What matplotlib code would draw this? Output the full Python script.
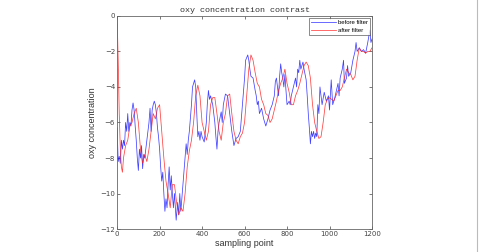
import numpy as np
import matplotlib.pyplot as plt
from matplotlib.lines import Line2D

# before filter (raw signal)
raw_x = [0, 5, 10, 15, 20, 25, 30, 35, 40, 45, 50, 55, 60, 65, 70, 75, 80, 85, 90, 95,
         100, 105, 110, 115, 120, 125, 130, 140, 150, 155, 160, 165, 170, 175, 180, 185, 190, 195,
         200, 205, 210, 215, 220, 225, 230, 235, 240, 245, 250, 255, 260, 265, 270, 278, 285,
         290, 295, 300, 310, 320, 325, 330, 335, 340, 350, 355, 365, 370, 375, 380, 385, 390,
         395, 400, 410, 420, 425, 430, 435, 440, 450, 460, 465, 470, 475, 480, 490, 495, 500,
         510, 520, 530, 540, 550, 560, 570, 580, 590, 600, 605, 615, 620, 625, 630, 640, 650,
         655, 660, 665, 670, 680, 690, 700, 710, 720, 730, 740, 745, 750, 760, 765, 770, 775,
         780, 785, 790, 795, 800, 810, 815, 820, 830, 840, 845, 850, 855, 860, 865, 870, 875,
         880, 890, 895, 900, 905, 910, 915, 920, 925, 930, 935, 940, 945, 950, 955, 960, 965,
         975, 985, 995, 1000, 1008, 1015, 1025, 1040, 1045, 1050, 1060, 1066, 1070, 1080, 1085,
         1090, 1100, 1110, 1120, 1125, 1130, 1140, 1150, 1160, 1170, 1180, 1190, 1195, 1200]
raw_y = [-6.3, -8.2, -7.9, -8.3, -7.0, -7.5, -7.0, -7.3, -6.0, -6.5, -5.5, -6.5, -6.0, -6.2, -5.3, -4.9,
         -5.3, -6.2, -7.0, -8.0, -8.7, -7.5, -8.0, -7.3, -8.6, -7.8, -8.0, -7.0, -6.0, -5.2, -6.5,
         -5.3, -5.0, -4.8, -5.0, -5.5, -6.3, -6.8, -7.5, -8.5, -9.3, -8.8, -10.0, -11.0, -10.3,
         -10.8, -9.5, -8.5, -9.8, -9.0, -10.0, -10.8, -10.0, -11.5, -10.5, -11.2, -10.0, -11.0,
         -9.5, -8.0, -7.2, -7.8, -7.0, -6.5, -5.0, -4.0, -3.6, -4.0, -5.5, -6.8, -6.5, -7.0,
         -6.5, -6.8, -7.1, -6.0, -4.9, -4.2, -4.7, -4.5, -5.0, -6.0, -6.8, -7.5, -6.5, -6.0,
         -5.4, -6.0, -5.0, -4.4, -4.5, -5.5, -6.5, -7.3, -6.9, -6.8, -6.5, -5.0, -3.5, -2.5,
         -2.2, -2.5, -3.0, -3.4, -3.5, -4.2, -4.5, -5.0, -4.8, -5.5, -5.2, -5.8, -6.2, -5.8,
         -5.3, -5.0, -4.5, -3.7, -3.5, -4.5, -3.4, -2.7, -3.2, -3.5, -4.0, -3.3, -4.2, -5.0,
         -4.8, -5.0, -4.5, -4.0, -3.5, -4.0, -3.0, -3.2, -2.5, -3.0, -2.8, -2.6, -3.0, -3.6,
         -4.5, -5.5, -6.3, -7.2, -6.5, -6.8, -6.5, -6.9, -6.6, -6.8, -5.0, -5.5, -4.0, -4.5,
         -5.0, -4.3, -4.8, -4.5, -5.3, -3.6, -5.0, -4.6, -3.8, -4.5, -3.5, -3.0, -2.5, -3.8,
         -3.5, -2.8, -3.4, -3.2, -2.5, -2.0, -1.5, -2.0, -1.8, -2.0, -1.9, -2.1, -1.5, -0.8,
         -1.5, -1.3]

# after filter
filt_x = [0, 5, 10, 15, 20, 25, 30, 40, 50, 60, 70, 80, 90, 100, 110, 120, 130, 140, 150, 160,
          170, 180, 190, 200, 210, 220, 230, 240, 250, 260, 270, 280, 290, 300, 310, 320, 330,
          340, 350, 360, 370, 380, 390, 400, 410, 420, 430, 440, 450, 460, 470, 480, 490, 500,
          510, 520, 530, 540, 550, 560, 570, 580, 590, 600, 610, 620, 630, 640, 650, 660, 670,
          680, 690, 700, 710, 720, 730, 740, 750, 760, 770, 780, 790, 800, 810, 820, 830, 840,
          850, 860, 870, 880, 890, 900, 910, 920, 930, 940, 950, 960, 970, 980, 990, 1000, 1010,
          1020, 1030, 1040, 1050, 1060, 1070, 1080, 1090, 1100, 1110, 1120, 1130, 1140, 1150,
          1160, 1170, 1180, 1190, 1200]
filt_y = [0.0, -2.5, -5.5, -7.5, -8.5, -8.8, -8.0, -7.3, -7.0, -6.2, -6.0, -5.5, -5.2, -6.0, -7.5,
          -8.3, -7.8, -8.2, -7.5, -6.5, -5.5, -5.8, -5.2, -5.0, -6.5, -8.0, -9.3, -10.0, -10.8,
          -9.5, -9.5, -10.5, -11.2, -10.8, -11.0, -10.0, -8.5, -7.6, -7.0, -6.0, -4.5, -3.9,
          -4.5, -6.0, -6.5, -7.0, -6.5, -5.0, -4.6, -4.6, -5.5, -6.5, -7.0, -6.0, -5.5, -4.5,
          -4.4, -5.5, -6.5, -7.0, -7.2, -6.8, -6.6, -6.0, -4.5, -3.0, -2.2, -2.5, -3.2, -3.8,
          -4.0, -4.7, -5.0, -5.5, -5.6, -6.0, -5.8, -5.3, -4.8, -4.2, -3.8, -3.5, -3.0, -3.8,
          -4.3, -5.0, -5.0, -4.5, -4.2, -3.8, -3.3, -2.8, -2.6, -2.8, -3.5, -5.0, -6.0, -6.5,
          -6.9, -6.8, -6.0, -5.0, -4.7, -4.6, -4.7, -4.8, -4.5, -4.2, -4.2, -4.0, -3.5, -3.0,
          -3.2, -3.3, -3.6, -3.4, -2.5, -1.8, -2.0, -2.0, -2.1, -2.0, -2.0, -1.8]

fig = plt.figure(figsize=(4.8, 2.52), dpi=100)
ax = fig.add_axes([0.244, 0.091, 0.531, 0.846])

ax.plot(raw_x, raw_y, color='#2020ff', lw=0.55, alpha=0.85, label='before filter')
ax.plot(filt_x, filt_y, color='#ff2020', lw=0.55, alpha=0.85, label='after filter')

ax.set_xlim(0, 1200)
ax.set_ylim(-12, 0)
ax.set_xticks(np.arange(0, 1201, 200))
ax.set_yticks(np.arange(-12, 1, 2))
ax.tick_params(direction='in', length=2, width=0.5, labelsize=5, colors='#444444',
               top=True, right=True, pad=1.5)
for s in ax.spines.values():
    s.set_color('#666666')
    s.set_linewidth(0.6)

ax.set_title('oxy concentration contrast', family='Liberation Mono', fontsize=6, pad=3,
             color='#333333')
ax.set_xlabel('sampling point', family='Liberation Sans', fontsize=6.5, labelpad=1,
              color='#333333')
ax.set_ylabel('oxy concentration', family='Liberation Sans', fontsize=6.5, labelpad=2,
              color='#333333')

leg = ax.legend(loc='upper right', handlelength=4.2, handletextpad=0.4, frameon=True,
                fancybox=False, borderpad=0.35, labelspacing=0.45, borderaxespad=0.3,
                prop={'family': 'Liberation Sans', 'size': 4.3})
leg.get_frame().set_edgecolor('#333333')
leg.get_frame().set_linewidth(0.5)

fig.add_artist(Line2D([0.994, 0.994], [0, 1], color='#bbbbbb', lw=0.8, transform=fig.transFigure))

fig.savefig('out.png', dpi=100)
